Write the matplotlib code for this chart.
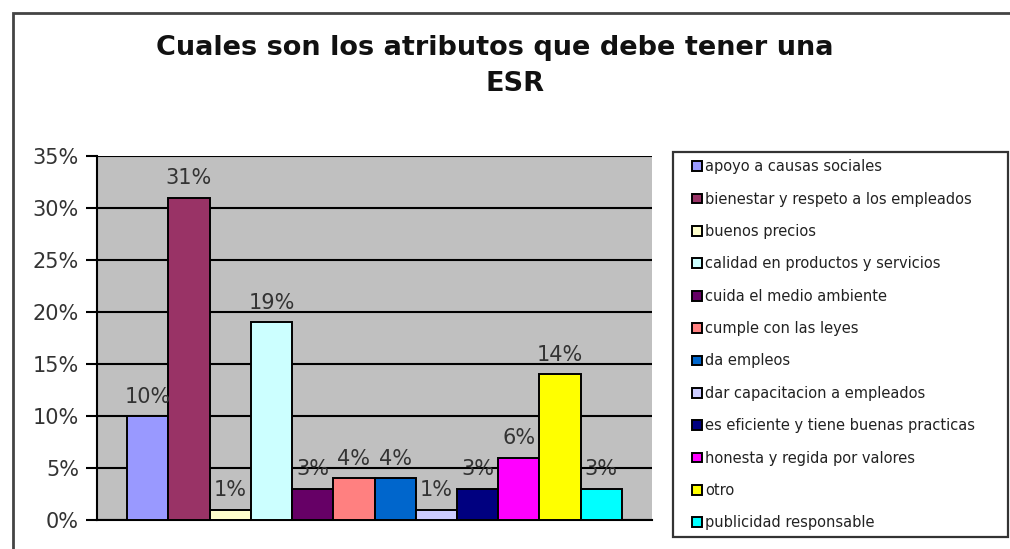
import matplotlib.pyplot as plt
from matplotlib.patches import Rectangle
from matplotlib.ticker import PercentFormatter

title_line1 = "Cuales son los atributos que debe tener una"
title_line2 = "ESR"

categories = [
    "apoyo a causas sociales",
    "bienestar y respeto a los empleados",
    "buenos precios",
    "calidad en productos y servicios",
    "cuida el medio ambiente",
    "cumple con las leyes",
    "da empleos",
    "dar capacitacion a empleados",
    "es eficiente y tiene buenas practicas",
    "honesta y regida por valores",
    "otro",
    "publicidad responsable",
]
values = [10, 31, 1, 19, 3, 4, 4, 1, 3, 6, 14, 3]
colors = ["#9999FF", "#993366", "#FFFFCC", "#CCFFFF", "#660066", "#FF8080",
          "#0066CC", "#CCCCFF", "#000080", "#FF00FF", "#FFFF00", "#00FFFF"]
yticks = [0, 5, 10, 15, 20, 25, 30, 35]

W, H = 1010, 549
fig = plt.figure(figsize=(W / 100, H / 100), dpi=100)
fig.patch.set_facecolor("white")

# outer chart frame
fig.add_artist(Rectangle((13 / W, -0.05), 1.05, (H - 13) / H + 0.05,
                         transform=fig.transFigure, fill=False,
                         edgecolor="#444444", linewidth=2))

ax = fig.add_axes([97 / W, (H - 520) / H, (652 - 97) / W, (520 - 156) / H])
ax.set_facecolor("#C0C0C0")

x = list(range(len(values)))
bars = ax.bar(x, values, width=1.0, color=colors, edgecolor="black",
              linewidth=1.4, zorder=3)
for xi, v in zip(x, values):
    ax.text(xi, v + 0.9, f"{v}%", ha="center", va="bottom",
            fontsize=15, color="#333333", zorder=4)

ax.set_xlim(-0.5 - 0.73, len(values) - 0.5 + 0.73)
ax.set_ylim(0, 35)
ax.set_yticks(yticks)
ax.yaxis.set_major_formatter(PercentFormatter(decimals=0))
ax.set_xticks([])
ax.yaxis.grid(True, color="black", linewidth=1.5, zorder=1)
ax.set_axisbelow(True)
ax.tick_params(axis="y", length=8, width=1.5, color="black",
               labelsize=15, labelcolor="#333333", pad=5)
for s in ("top", "right"):
    ax.spines[s].set_visible(False)
for s in ("left", "bottom"):
    ax.spines[s].set_color("black")
    ax.spines[s].set_linewidth(1.5)

fig.text(495 / W, 1 - 48 / H, title_line1, ha="center", va="center",
         fontsize=19.5, fontweight="bold", color="#111111")
fig.text(515 / W, 1 - 84 / H, title_line2, ha="center", va="center",
         fontsize=19.5, fontweight="bold", color="#111111")

# legend frame drawn on its own, entries placed inside it
fig.add_artist(Rectangle((673 / W, (H - 537) / H), (1008 - 673) / W, (537 - 152) / H,
                         transform=fig.transFigure, fill=True, facecolor="white",
                         edgecolor="#333333", linewidth=1.6))
leg = fig.legend(bars, categories, loc="upper left",
                 bbox_to_anchor=(688 / W, (H - 155) / H),
                 frameon=False, fontsize=10.5, labelspacing=1.19,
                 handlelength=0.65, handleheight=0.65, handletextpad=0.2,
                 borderaxespad=0, borderpad=0.3)
for t in leg.get_texts():
    t.set_color("#222222")

fig.savefig("out.png", dpi=100)
